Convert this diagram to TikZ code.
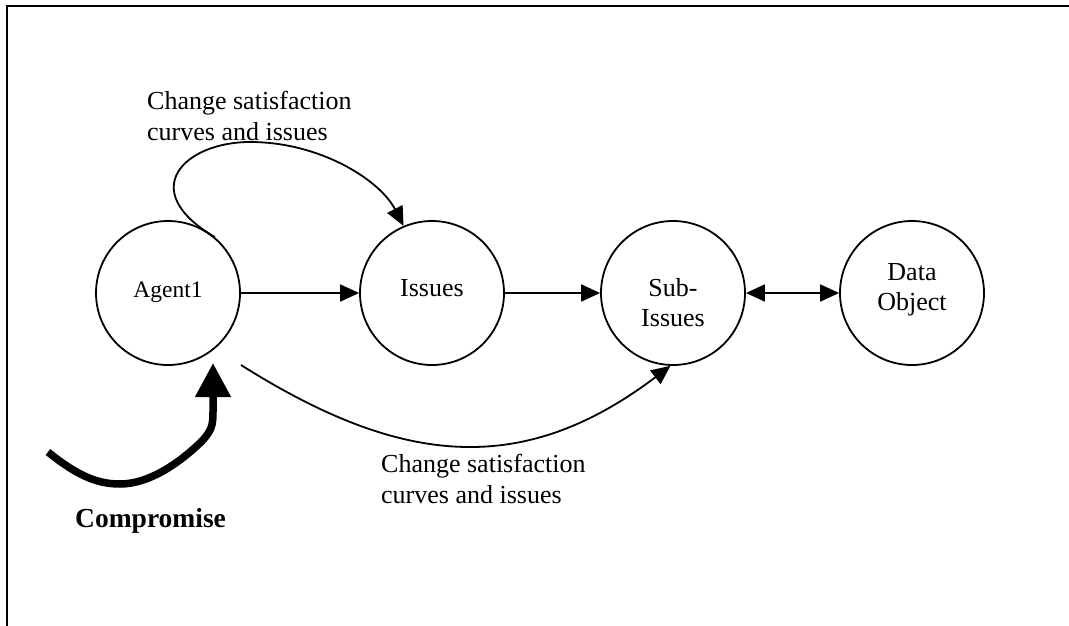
\documentclass[tikz,border=0pt]{standalone}
\usepackage{fontspec}
\setmainfont{Liberation Serif}
\usetikzlibrary{arrows.meta}
\begin{document}
\begin{tikzpicture}[x=1pt,y=-1pt,
  state/.style={draw, circle, line width=1.8pt, minimum size=144pt, inner sep=0pt},
  statetext/.style={font=\fontsize{26}{30}\selectfont, align=center, inner sep=0pt, anchor=base},
  lbl/.style={font=\fontsize{26}{31}\selectfont, align=left, inner sep=0pt, anchor=base west},
  conn/.style={line width=1.8pt, -{Triangle[length=19pt,width=17pt]}},
  biconn/.style={line width=1.8pt, {Triangle[length=19pt,width=17pt]}-{Triangle[length=19pt,width=17pt]}},
  push/.style={line width=7.5pt, -{Triangle[length=34pt,width=34pt]}},
]
\useasboundingbox (0,0) rectangle (1069,626);
% page frame
\draw[line width=2pt] (7,626) -- (7,6) -- (1069,6);

% states
\node[state] (agent)  at (168,293) {};
\node[state] (issues) at (432,293) {};
\node[state] (sub)    at (673,293) {};
\node[state] (data)   at (912,293) {};

% state names (base anchor sits on the last line)
\node[statetext, font=\fontsize{23.5}{28}\selectfont] (agentT) at (168,297.7) {Agent1};
\node[statetext] (issuesT) at (432,296.7) {Issues};
\node[statetext] (subT)    at (673,326.5) {Sub-\\Issues};
\node[statetext] (dataT)   at (912,310) {Data\\Object};

% straight connectors
\draw[conn]   (agent) -- (issues);
\draw[conn]   (issues) -- (sub);
\draw[biconn] (sub) -- (data);

% loop over the top into Issues
\draw[conn] (agent.50) .. controls (135,190) and (185,142) .. (250,142)
            .. controls (320,142) and (380,180) .. (issues.113);
\node[lbl] (topL) at (147,140) {Change satisfaction\\curves and issues};

% sweep under into Sub-Issues
\coordinate (b0) at (241,365);
\draw[conn] (b0) .. controls (401,466) and (522,478) .. (sub.-92);
\node[lbl] (botL) at (381,503) {Change satisfaction\\curves and issues};

% thick compromise arrow
\coordinate (c0) at (48,452);
\coordinate (c1) at (213,363);
\draw[push] (c0) .. controls (80,478) and (100,484) .. (120,484)
            .. controls (150,484) and (180,462) .. (200,443)
            .. controls (212,431) and (213,425) .. (213,412) -- (c1);
\node[anchor=base west, inner sep=0pt, font=\bfseries\fontsize{27.5}{32}\selectfont] (comp) at (75,527) {Compromise};
\end{tikzpicture}
\end{document}
